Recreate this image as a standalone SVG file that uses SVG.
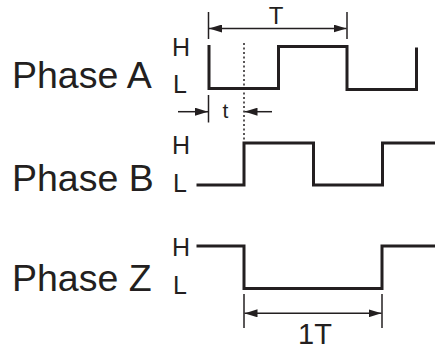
<svg xmlns="http://www.w3.org/2000/svg" width="435" height="348" viewBox="0 0 435 348">
  <style>
    .lbl { font-family: "Liberation Sans", Arial, sans-serif; fill: #231f20; }
    .big { font-size: 37.5px; }
    .hl { font-size: 25px; }
    .wave { fill: none; stroke: #231f20; stroke-width: 3; stroke-linejoin: miter; stroke-linecap: butt; }
    .dim { fill: none; stroke: #231f20; stroke-width: 1.5; }
    .dot { fill: none; stroke: #231f20; stroke-width: 1.5; stroke-dasharray: 2 2.5; }
  </style>
  <defs>
    <marker id="arr" viewBox="0 0 13 8" refX="13" refY="4" markerWidth="13" markerHeight="8" markerUnits="userSpaceOnUse" orient="auto-start-reverse">
      <path d="M0,0 L13,4 L0,8 Z" fill="#231f20"/>
    </marker>
  </defs>

  <g id="phaseA">
    <text class="lbl big" x="12" y="87.5">Phase A</text>
    <text class="lbl hl" x="172" y="55.5">H</text>
    <text class="lbl hl" x="173" y="93">L</text>
    <path class="wave" d="M209,45 V88.5 H278.5 V46.5 H347 V89.5 H416.5 V47.5"/>
  </g>

  <g id="phaseB">
    <text class="lbl big" x="12" y="190.5">Phase B</text>
    <text class="lbl hl" x="172" y="153.5">H</text>
    <text class="lbl hl" x="173" y="192">L</text>
    <path class="wave" d="M196.5,185 H244 V143 H313.5 V185 H382.5 V143 H435"/>
  </g>

  <g id="phaseZ">
    <text class="lbl big" x="12" y="291">Phase Z</text>
    <text class="lbl hl" x="172" y="255.5">H</text>
    <text class="lbl hl" x="173" y="293.5">L</text>
    <path class="wave" d="M196.5,246 H244 V288.5 H382 V246 H435"/>
  </g>

  <g id="connectors">
    <!-- T dimension -->
    <line class="dim" x1="208.5" y1="12" x2="208.5" y2="39"/>
    <line class="dim" x1="347" y1="12" x2="347" y2="39"/>
    <line class="dim" x1="209" y1="28.5" x2="346.5" y2="28.5" marker-start="url(#arr)" marker-end="url(#arr)"/>
    <text class="lbl" x="276" y="23.5" font-size="24" text-anchor="middle">T</text>

    <!-- dotted -->
    <line class="dot" x1="244" y1="43" x2="244" y2="142"/>

    <!-- t dimension -->
    <line class="dim" x1="208.5" y1="95" x2="208.5" y2="122.5"/>
    <line class="dim" x1="178" y1="111.7" x2="208" y2="111.7" marker-end="url(#arr)"/>
    <line class="dim" x1="272" y1="111.7" x2="244.5" y2="111.7" marker-end="url(#arr)"/>
    <text class="lbl" x="225.5" y="118" font-size="21" text-anchor="middle">t</text>

    <!-- 1T dimension -->
    <line class="dim" x1="244" y1="294" x2="244" y2="328"/>
    <line class="dim" x1="382" y1="294" x2="382" y2="328"/>
    <line class="dim" x1="244.5" y1="313.3" x2="381.5" y2="313.3" marker-start="url(#arr)" marker-end="url(#arr)"/>
    <text class="lbl" x="315" y="343.5" font-size="29" text-anchor="middle">1T</text>
  </g>
</svg>
